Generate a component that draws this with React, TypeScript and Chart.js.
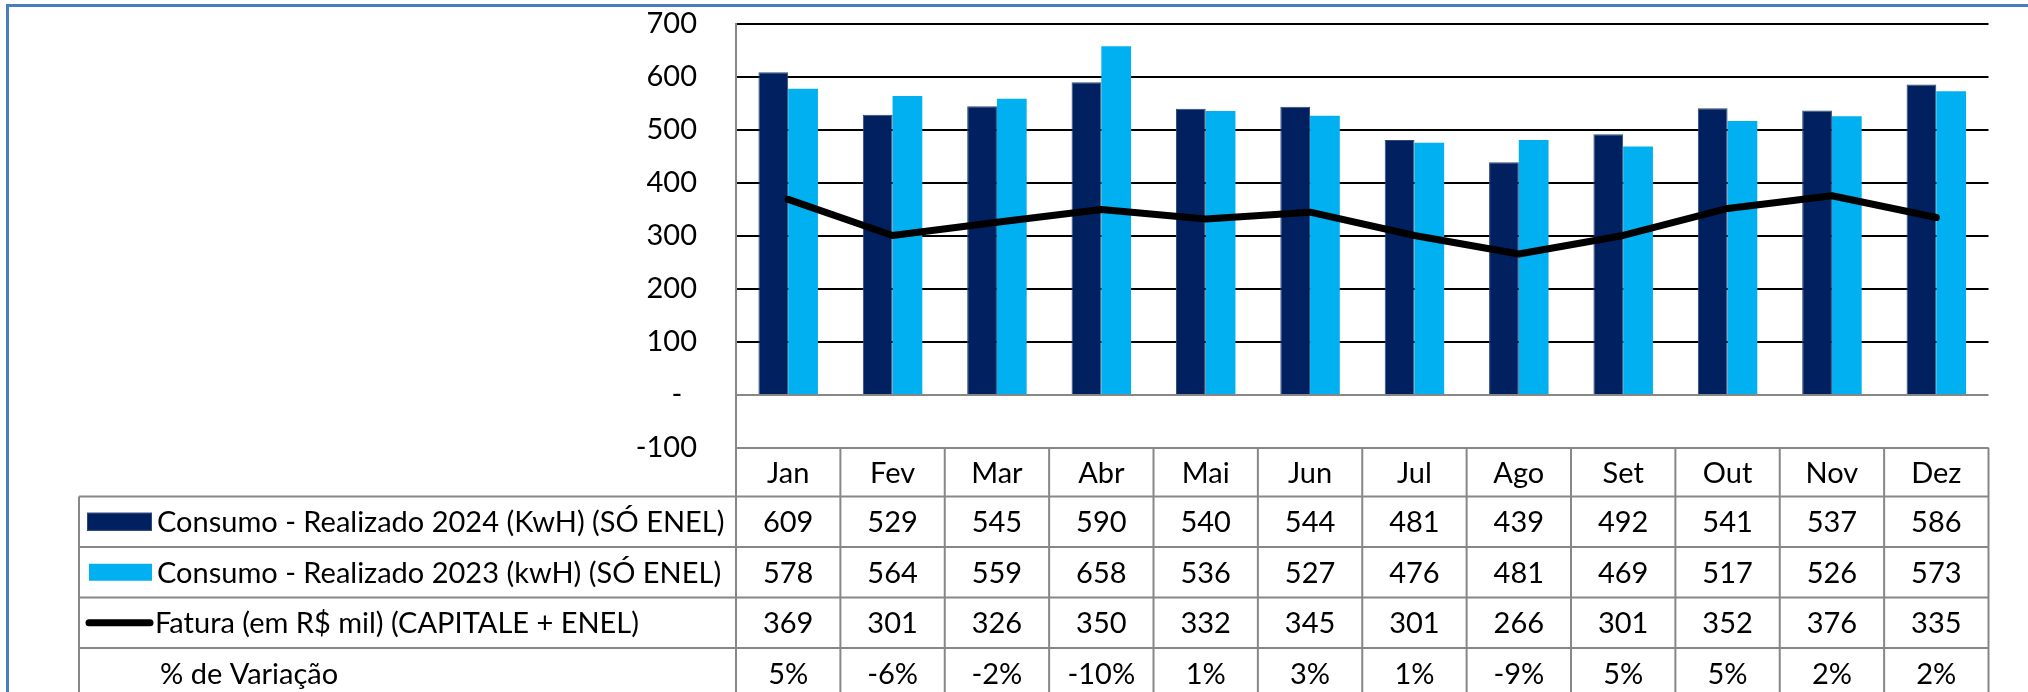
import React, { useEffect, useRef } from 'react';
import { Chart, registerables } from 'chart.js';

Chart.register(...registerables);

// ---- Data ----
const months = ['Jan', 'Fev', 'Mar', 'Abr', 'Mai', 'Jun', 'Jul', 'Ago', 'Set', 'Out', 'Nov', 'Dez'];
const consumo2024 = [609, 529, 545, 590, 540, 544, 481, 439, 492, 541, 537, 586];
const consumo2023 = [578, 564, 559, 658, 536, 527, 476, 481, 469, 517, 526, 573];
const fatura = [369, 301, 326, 350, 332, 345, 301, 266, 301, 352, 376, 335];
const variacao = [5, -6, -2, -10, 1, 3, 1, -9, 5, 5, 2, 2];

const label2024 = 'Consumo - Realizado 2024 (KwH) (SÓ ENEL)';
const label2023 = 'Consumo - Realizado 2023 (kwH) (SÓ ENEL)';
const labelFatura = 'Fatura (em R$ mil) (CAPITALE + ENEL)';
const labelVariacao = '% de Variação';

const yMin = -100;
const yMax = 700;
const yStep = 100;

const DARK = '#002060';
const LIGHT = '#00B0F0';
const GRID_GRAY = '#878787';
const FONT = 'Lato';
const TABLE_FONT_SIZE = 29;
const LINE_WIDTH = 7;

const framePlugin = {
  id: 'frame',
  beforeDraw(chart: any) {
    const { ctx, width, height } = chart;
    ctx.save();
    ctx.fillStyle = '#ffffff';
    ctx.fillRect(0, 0, width, height);
    ctx.strokeStyle = '#4a7ebb';
    ctx.lineWidth = 3;
    ctx.strokeRect(7.5, 5.5, width + 50, height + 50);
    ctx.restore();
  },
};

const tablePlugin = {
  id: 'dataTable',
  afterDraw(chart: any) {
    const { ctx, chartArea } = chart;
    const xs = chart.scales.x;
    const left = chartArea.left;
    const right = chartArea.right;
    const top = chartArea.bottom;
    const n = months.length;
    const cw = (right - left) / n;
    const headerH = 48.5;
    const rowH = 50.5;
    const labelLeft = 79;
    const rowsTop = top + headerH;
    const nRows = 4;
    const bottom = rowsTop + nRows * rowH;

    ctx.save();
    ctx.strokeStyle = GRID_GRAY;
    ctx.lineWidth = 2;
    const line = (x1: number, y1: number, x2: number, y2: number) => {
      ctx.beginPath();
      ctx.moveTo(x1, y1);
      ctx.lineTo(x2, y2);
      ctx.stroke();
    };
    line(left, top, right, top);
    for (let i = 0; i <= nRows; i++) {
      line(labelLeft, rowsTop + i * rowH, right, rowsTop + i * rowH);
    }
    for (let i = 0; i <= n; i++) {
      const x = left + i * cw;
      line(x, top, x, bottom);
    }
    line(labelLeft, rowsTop, labelLeft, bottom);

    ctx.fillStyle = '#000';
    ctx.font = `${TABLE_FONT_SIZE}px ${FONT}`;
    ctx.textBaseline = 'middle';
    ctx.textAlign = 'center';
    months.forEach((m, i) => {
      ctx.fillText(m, xs.getPixelForValue(i), top + headerH / 2 + 1);
    });
    const rows: string[][] = [
      consumo2024.map(String),
      consumo2023.map(String),
      fatura.map(String),
      variacao.map((v) => `${v}%`),
    ];
    rows.forEach((r, ri) => {
      const cy = rowsTop + (ri + 0.5) * rowH + 1;
      r.forEach((t, i) => ctx.fillText(t, xs.getPixelForValue(i), cy));
    });

    // row labels with legend keys
    const mid = (ri: number) => rowsTop + (ri + 0.5) * rowH;
    ctx.fillStyle = DARK;
    ctx.fillRect(87, mid(0) - 9, 65, 18);
    ctx.strokeStyle = '#2f4774';
    ctx.lineWidth = 1;
    ctx.strokeRect(87.5, mid(0) - 8.5, 64, 17);
    ctx.fillStyle = LIGHT;
    ctx.fillRect(89, mid(1) - 8.5, 63, 17);
    ctx.strokeStyle = '#000';
    ctx.lineWidth = LINE_WIDTH;
    ctx.lineCap = 'round';
    line(89, mid(2), 150, mid(2));

    ctx.fillStyle = '#000';
    ctx.textAlign = 'left';
    ctx.fillText(label2024, 157, mid(0) + 1);
    ctx.fillText(label2023, 157, mid(1) + 1);
    ctx.fillText(labelFatura, 155, mid(2) + 1);
    ctx.fillText(labelVariacao, 160, mid(3) + 1);
    ctx.restore();
  },
};

export default function App() {
  const canvasRef = useRef<HTMLCanvasElement | null>(null);

  useEffect(() => {
    if (!canvasRef.current) return;
    const chart = new Chart(canvasRef.current, {
      type: 'bar',
      data: {
        labels: months,
        datasets: [
          {
            type: 'line',
            label: labelFatura,
            data: fatura,
            borderColor: '#000',
            backgroundColor: '#000',
            borderWidth: LINE_WIDTH,
            pointRadius: 0,
            tension: 0,
            borderCapStyle: 'round',
            borderJoinStyle: 'round',
            order: 0,
          } as any,
          {
            type: 'bar',
            label: label2024,
            data: consumo2024,
            backgroundColor: DARK,
            borderColor: '#2f4774',
            borderWidth: 1,
            order: 1,
          },
          {
            type: 'bar',
            label: label2023,
            data: consumo2023,
            backgroundColor: LIGHT,
            borderWidth: 0,
            order: 1,
          },
        ],
      },
      options: {
        responsive: false,
        animation: false,
        devicePixelRatio: 1,
        layout: { padding: { left: 0, top: 24, right: 39.5, bottom: 244 } },
        datasets: {
          bar: { categoryPercentage: 0.57, barPercentage: 1 },
        },
        plugins: {
          legend: { display: false },
          tooltip: { enabled: false },
          title: { display: false },
        },
        scales: {
          x: { display: false },
          y: {
            min: yMin,
            max: yMax,
            ticks: {
              stepSize: yStep,
              color: '#000',
              padding: 0,
              font: { family: FONT, size: 29 },
              callback: (v: any) => (Number(v) === 0 ? '-  ' : String(v)),
            },
            grid: {
              drawTicks: true,
              tickLength: 39,
              tickColor: 'rgba(0,0,0,0)',
              lineWidth: 2,
              color: (c: any) => (c.tick && c.tick.value <= 0 ? GRID_GRAY : '#000'),
            },
            border: { color: GRID_GRAY, width: 2 },
            afterFit: (scale: any) => {
              scale.width = 736;
            },
          },
        },
      },
      plugins: [framePlugin, tablePlugin],
    });
    return () => chart.destroy();
  }, []);

  return (
    <div style={{ position: 'absolute', left: 0, top: 0, width: 2028, height: 692 }}>
      <canvas ref={canvasRef} width={2028} height={692} style={{ display: 'block' }} />
    </div>
  );
}
